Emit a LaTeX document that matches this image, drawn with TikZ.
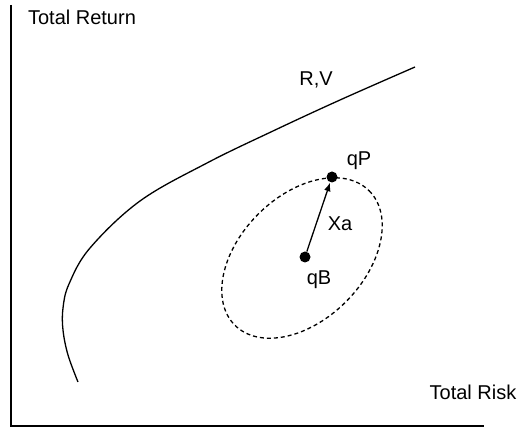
\documentclass[tikz,border=0pt]{standalone}
\usepackage{fontspec}
\setmainfont{Liberation Sans}
\usetikzlibrary{arrows.meta,positioning,calc}

\begin{document}
\begin{tikzpicture}[x=1pt, y=-1pt, >=Latex,
  font=\fontsize{20}{24}\selectfont,
  lbl/.style={inner sep=0pt},
  dot/.style={circle, fill, inner sep=0pt, minimum size=11pt}]
  \useasboundingbox (0,0) rectangle (520,427);
  % axes
  \coordinate (ytop) at (11,5);
  \coordinate (xend) at (484,426);
  \draw[line width=1.5pt] (ytop) |- (xend);
  \node[lbl] (ret) at (82,17.5) {Total Return};
  \node[lbl] (risk) at (473,392) {Total Risk};
  % frontier
  \draw[line width=1.3pt] plot[smooth, tension=0.6] coordinates {(78,382) (68,355) (63,330) (63,308) (69,284) (90,248) (140,201) (207,163) (273,131) (340,100) (415,67)};
  \node[lbl] (rv) at (316,80) {R,V};
  % tracking ellipse
  \draw[line width=1.3pt, dash pattern=on 4pt off 3pt, rotate around={45:(302,258)}] (302,258) ellipse [x radius=95, y radius=62];
  \node[dot] (qB) at (305,257) {};
  \node[dot] (qP) at (332,177) {};
  \draw[->, line width=1.3pt] (qB) -- (qP);
  \node[lbl] (qPl) at (359,161) {qP};
  \node[lbl] (xa) at (340,224) {Xa};
  \node[lbl] (qBl) at (319,280) {qB};
\end{tikzpicture}
\end{document}
